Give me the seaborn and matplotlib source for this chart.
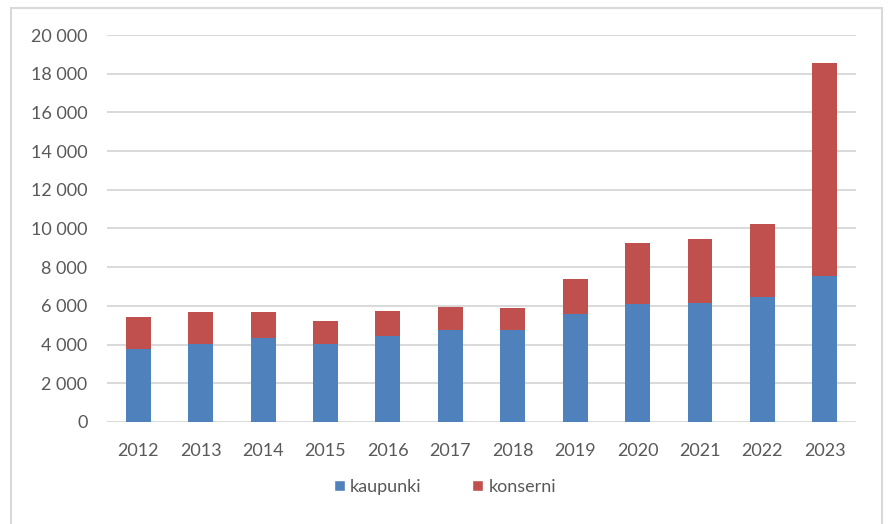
import seaborn as sns
import matplotlib
matplotlib.use("Agg")
import matplotlib.pyplot as plt
from matplotlib.patches import Patch, Rectangle
from matplotlib.ticker import FuncFormatter, MultipleLocator
import pandas as pd

years = ['2012', '2013', '2014', '2015', '2016', '2017',
         '2018', '2019', '2020', '2021', '2022', '2023']
kaupunki = [3750, 4030, 4330, 4030, 4460, 4760, 4760, 5600, 6080, 6150, 6460, 7520]
konserni = [1680, 1630, 1330, 1210, 1270, 1200, 1140, 1810, 3150, 3330, 3790, 11040]

BLUE = '#4F81BD'
RED = '#C0504D'
GREY = '#D9D9D9'
TEXT = '#595959'

df = pd.DataFrame({'vuosi': years, 'kaupunki': kaupunki, 'konserni': konserni})
df['yhteensa'] = df['kaupunki'] + df['konserni']

sns.set_style('white')
plt.rcParams['font.family'] = ['Lato', 'DejaVu Sans']

fig = plt.figure(figsize=(8.88, 5.24), dpi=100)
ax = fig.add_axes([0.1205, 0.1947, 0.8435, 0.7385])

# stacked: total in red, city part in blue on top of it
sns.barplot(data=df, x='vuosi', y='yhteensa', color=RED, width=0.4,
            linewidth=0, saturation=1, ax=ax, zorder=3)
sns.barplot(data=df, x='vuosi', y='kaupunki', color=BLUE, width=0.4,
            linewidth=0, saturation=1, ax=ax, zorder=3)

ax.set_ylim(0, 20000)
ax.set_xlim(-0.5, len(years) - 0.5)
ax.yaxis.set_major_locator(MultipleLocator(2000))
ax.yaxis.set_major_formatter(FuncFormatter(lambda v, p: f'{int(v):,}'.replace(',', ' ')))
ax.grid(axis='y', color=GREY, linewidth=1.4, zorder=0)
ax.set_axisbelow(True)
sns.despine(ax=ax, left=True, top=True, right=True, bottom=True)
ax.set_xlabel('')
ax.set_ylabel('')
ax.tick_params(axis='y', length=0, pad=14, labelsize=13, labelcolor=TEXT)
ax.tick_params(axis='x', length=0, pad=15, labelsize=13, labelcolor=TEXT)

handles = [Patch(facecolor=BLUE, label='kaupunki'), Patch(facecolor=RED, label='konserni')]
fig.legend(handles=handles, loc='center', bbox_to_anchor=(0.501, 0.0706), ncol=2,
           frameon=False, fontsize=13, labelcolor=TEXT, handlelength=0.6,
           handleheight=0.6, handletextpad=0.3, columnspacing=2.8)

frame = Rectangle((11 / 888, -0.05), (882 - 11) / 888, 0.05 + (524 - 8) / 524,
                  transform=fig.transFigure, fill=False, edgecolor=GREY,
                  linewidth=1.5, clip_on=False)
fig.patches.append(frame)

fig.savefig('out.png', dpi=100)
